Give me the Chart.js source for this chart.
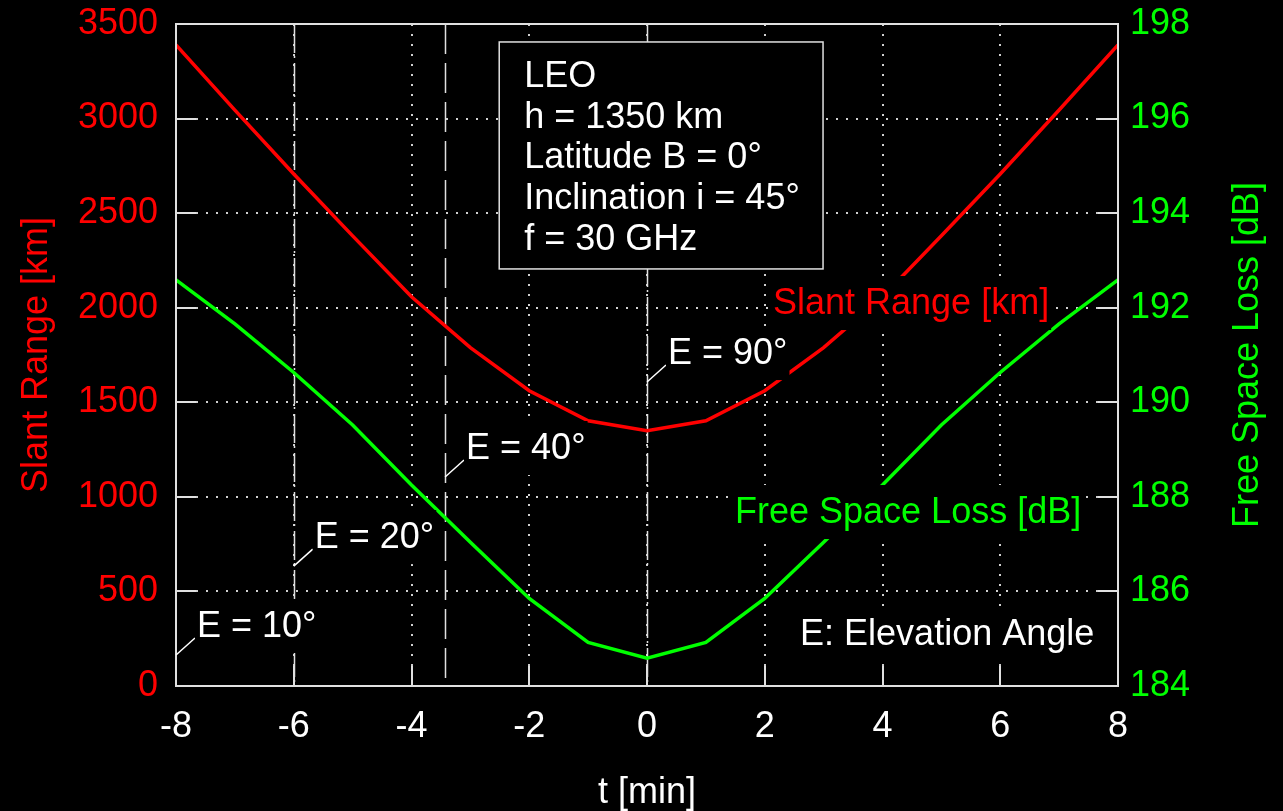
<!DOCTYPE html>
<html>
<head>
<meta charset="utf-8">
<script src="https://cdn.jsdelivr.net/npm/chart.js@4/dist/chart.umd.min.js"></script>
<style>
  html, body { margin: 0; padding: 0; background: #000; }
  canvas { display: block; }
</style>
</head>
<body>
<canvas id="myChart" width="1283" height="811"></canvas>
<script>
const times = [-8, -7, -6, -5, -4, -3, -2, -1, 0, 1, 2, 3, 4, 5, 6, 7, 8];
const slantRange = [3389, 3045, 2707, 2380, 2058, 1789, 1561, 1402, 1350, 1402, 1561, 1789, 2058, 2380, 2707, 3045, 3389];
const freeSpaceLoss = [192.59, 191.66, 190.63, 189.52, 188.25, 187.04, 185.85, 184.92, 184.59, 184.92, 185.85, 187.04, 188.25, 189.52, 190.63, 191.66, 192.59];

// elevation markers (time of the vertical line, label, where the pointer starts in km)
const markerTimes = [-8, -6, -3.43, 0];
const markerLabels = ['E = 10°', 'E = 20°', 'E = 40°', 'E = 90°'];
const markerKm = [164, 634, 1105, 1607];

const infoLines = ['LEO', 'h = 1350 km', 'Latitude B = 0°', 'Inclination i = 45°', 'f = 30 GHz'];

const RED = '#ff0000';
const GREEN = '#00ff00';
const FONT = '"Liberation Sans", Arial, sans-serif';
const FS = 36;

const ctx = document.getElementById('myChart');

function labelWithBg(c, text, x, y, color) {
  c.font = FS + 'px ' + FONT;
  c.textBaseline = 'middle';
  c.textAlign = 'left';
  const w = c.measureText(text).width;
  c.fillStyle = '#000';
  c.fillRect(x - 2, y - 26, w + 4, 54);
  c.fillStyle = color;
  c.fillText(text, x, y + 2);
}

const overlay = {
  id: 'overlay',
  beforeDatasetsDraw(chart) {
    const c = chart.ctx;
    const xs = chart.scales.x;
    const a = chart.chartArea;
    c.save();
    c.strokeStyle = '#e0e0e0';
    c.lineWidth = 1.5;
    markerTimes.forEach((t, i) => {
      if (i === 0) return;
      const x = Math.round(xs.getPixelForValue(t)) + 0.5;
      c.setLineDash(i === 2 ? [30, 9] : [29, 3, 2, 5]);
      c.beginPath();
      c.moveTo(x, a.top);
      c.lineTo(x, a.bottom);
      c.stroke();
    });
    c.restore();
  },
  afterDatasetsDraw(chart) {
    const c = chart.ctx;
    const xs = chart.scales.x;
    const yl = chart.scales.y;
    const yr = chart.scales.y2;
    const a = chart.chartArea;
    c.save();

    // inward ticks
    c.strokeStyle = '#e0e0e0';
    c.lineWidth = 2;
    c.beginPath();
    yl.ticks.forEach(tk => {
      const y = Math.round(yl.getPixelForValue(tk.value));
      c.moveTo(a.left, y); c.lineTo(a.left + 20, y);
    });
    yr.ticks.forEach(tk => {
      const y = Math.round(yr.getPixelForValue(tk.value));
      c.moveTo(a.right - 20, y); c.lineTo(a.right, y);
    });
    xs.ticks.forEach(tk => {
      const x = Math.round(xs.getPixelForValue(tk.value));
      c.moveTo(x, a.bottom); c.lineTo(x, a.bottom - 20);
    });
    c.stroke();

    // frame
    c.strokeRect(a.left, a.top, a.right - a.left, a.bottom - a.top);

    // info box
    const bx0 = xs.getPixelForValue(-2.51);
    const bx1 = xs.getPixelForValue(2.99);
    const by0 = yl.getPixelForValue(3405);
    const by1 = yl.getPixelForValue(2205);
    c.fillStyle = '#000';
    c.fillRect(bx0, by0, bx1 - bx0, by1 - by0);
    c.lineWidth = 1.5;
    c.strokeRect(bx0, by0, bx1 - bx0, by1 - by0);
    c.font = FS + 'px ' + FONT;
    c.fillStyle = '#fff';
    c.textBaseline = 'middle';
    c.textAlign = 'left';
    infoLines.forEach((s, i) => c.fillText(s, bx0 + 25, by0 + 35 + i * 40.75));

    // elevation markers
    markerTimes.forEach((t, i) => {
      const x0 = xs.getPixelForValue(t);
      const y0 = yl.getPixelForValue(markerKm[i]);
      c.strokeStyle = '#fff';
      c.lineWidth = 1.5;
      c.beginPath();
      c.moveTo(x0, y0);
      c.lineTo(x0 + 19, y0 - 17);
      c.stroke();
      labelWithBg(c, markerLabels[i], x0 + 21, y0 - 30, '#fff');
    });

    // curve labels
    labelWithBg(c, 'Slant Range [km]', xs.getPixelForValue(2.14), yl.getPixelForValue(2030), RED);
    labelWithBg(c, 'Free Space Loss [dB]', xs.getPixelForValue(1.495), yl.getPixelForValue(925), GREEN);
    labelWithBg(c, 'E: Elevation Angle', xs.getPixelForValue(2.6), yl.getPixelForValue(280), '#fff');

    // right axis title, reading bottom to top
    c.translate(chart.width - 35, (a.top + a.bottom) / 2);
    c.rotate(-Math.PI / 2);
    c.textAlign = 'center';
    c.fillStyle = GREEN;
    c.fillText('Free Space Loss [dB]', 0, 0);
    c.restore();
  }
};

const data = {
  labels: times,
  datasets: [{
    label: 'Slant Range [km]',
    data: slantRange,
    borderColor: RED,
    borderWidth: 3.5,
    pointRadius: 0,
    fill: false,
    yAxisID: 'y',
  }, {
    label: 'Free Space Loss [dB]',
    data: freeSpaceLoss,
    borderColor: GREEN,
    borderWidth: 3.5,
    pointRadius: 0,
    fill: false,
    yAxisID: 'y2',
  }],
};

const gridDots = { display: false, dash: [2, 8] };
const tickFont = { family: FONT, size: FS };
const titleFont = { family: FONT, size: FS, lineHeight: 1 };

const config = {
  type: 'line',
  data: data,
  options: {
    responsive: false,
    animation: false,
    layout: { padding: { top: 24, right: 0, left: 0, bottom: 0 } },
    plugins: { legend: { display: false }, tooltip: { enabled: false } },
    scales: {
      x: {
        type: 'linear',
        position: 'bottom',
        min: -8, max: 8,
        ticks: { stepSize: 2, color: '#fff', padding: 19, font: tickFont },
        grid: { color: '#cfcfcf', lineWidth: 2, drawTicks: false },
        border: gridDots,
        title: { display: true, text: 't [min]', color: '#fff', font: titleFont, padding: { top: 0, bottom: 0 } },
        afterFit: s => { s.height = 125; s.paddingLeft = 0; s.paddingRight = 0; },
      },
      y: {
        position: 'left',
        min: 0, max: 3500,
        ticks: { stepSize: 500, color: RED, padding: 18, font: tickFont, callback: v => String(v) },
        grid: { color: '#cfcfcf', lineWidth: 2, drawTicks: false },
        border: gridDots,
        title: { display: true, text: 'Slant Range [km]', color: RED, font: titleFont, padding: { top: 19, bottom: 0 } },
        afterFit: s => { s.width = 176; s.paddingTop = 0; s.paddingBottom = 0; },
      },
      y2: {
        position: 'right',
        min: 184, max: 198,
        ticks: { stepSize: 2, color: GREEN, padding: 12, font: tickFont, callback: v => String(v) },
        grid: { drawOnChartArea: false, drawTicks: false },
        border: { display: false },
        afterFit: s => { s.width = 165; s.paddingTop = 0; s.paddingBottom = 0; },
      },
    },
  },
  plugins: [overlay],
};

const chart = new Chart(ctx, config);
</script>
</body>
</html>
